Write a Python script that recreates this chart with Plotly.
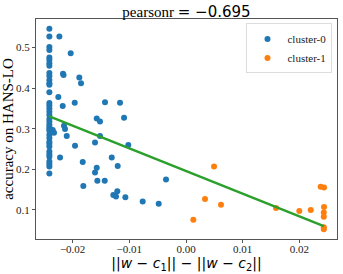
import plotly.graph_objects as go

# cluster-0 (blue)
c0_x = [-0.0241]*37 + [
    -0.02234, -0.02034, -0.0217, -0.0216, -0.01882, -0.01852, -0.02252, -0.02175,
    -0.01963, -0.01429, -0.01164, -0.01575, -0.01517, -0.01093, -0.02351, -0.02328,
    -0.02152, -0.02134, -0.02104, -0.01958, -0.02222, -0.01822, -0.01605, -0.01517,
    -0.01018, -0.0131, -0.01205, -0.01575, -0.01605, -0.01564, -0.01434, -0.01811,
    -0.01212, -0.01282, -0.01235, -0.0107, -0.00764, -0.00482, -0.00353]
c0_y = [0.546, 0.527, 0.501, 0.494, 0.475, 0.469, 0.461, 0.455, 0.437, 0.430,
        0.420, 0.412, 0.408, 0.390, 0.363, 0.357, 0.350, 0.342, 0.334, 0.324,
        0.317, 0.310, 0.304, 0.299, 0.295, 0.285, 0.277, 0.268, 0.263, 0.256,
        0.244, 0.237, 0.231, 0.219, 0.213, 0.207, 0.190] + [
    0.527, 0.486, 0.435, 0.432, 0.426, 0.412, 0.378, 0.356,
    0.364, 0.365, 0.364, 0.325, 0.318, 0.327, 0.297, 0.290,
    0.307, 0.299, 0.282, 0.258, 0.229, 0.218, 0.266, 0.282,
    0.260, 0.229, 0.208, 0.204, 0.192, 0.172, 0.172, 0.159,
    0.146, 0.137, 0.133, 0.131, 0.121, 0.115, 0.175]

# cluster-1 (orange)
c1_x = [0.00494, 0.00335, 0.00617, 0.00129, 0.01587, 0.01998, 0.0220,
        0.02375, 0.02434, 0.02434, 0.0243, 0.0243, 0.0243, 0.0243]
c1_y = [0.207, 0.127, 0.113, 0.076, 0.105, 0.0975, 0.100,
        0.157, 0.155, 0.107, 0.0935, 0.0835, 0.0574, 0.0524]

# regression line endpoints
fit_x = [-0.0242, 0.0243]
fit_y = [0.331, 0.060]

x_ticks = [-0.02, -0.01, 0.0, 0.01, 0.02]
x_labels = ["\u22120.02", "\u22120.01", "0.00", "0.01", "0.02"]
y_ticks = [0.1, 0.2, 0.3, 0.4, 0.5]
y_labels = ["0.1", "0.2", "0.3", "0.4", "0.5"]

serif = "Liberation Serif"

fig = go.Figure()
fig.add_trace(go.Scatter(x=c0_x, y=c0_y, mode="markers", name="cluster-0",
                         marker=dict(color="#1f77b4", size=6)))
fig.add_trace(go.Scatter(x=c1_x, y=c1_y, mode="markers", name="cluster-1",
                         marker=dict(color="#ff7f0e", size=6)))
fig.add_trace(go.Scatter(x=fit_x, y=fit_y, mode="lines", showlegend=False,
                         line=dict(color="#2ca02c", width=2.5)))

axis_common = dict(showgrid=False, zeroline=False, showline=True, mirror=True,
                   linecolor="#555555", linewidth=1, ticks="outside", ticklen=3,
                   tickcolor="#555555", automargin=False,
                   tickfont=dict(family=serif, size=11, color="#222"))

fig.update_layout(
    width=343, height=274,
    margin=dict(l=36, r=6, t=19, b=35),
    plot_bgcolor="white", paper_bgcolor="white",
    title=dict(text="pearsonr <span style='font-family:DejaVu Sans'>= \u22120.695</span>",
               x=0.5, xref="paper", xanchor="center", y=1, yref="paper", yanchor="bottom",
               pad=dict(b=2), font=dict(family=serif, size=15, color="black")),
    xaxis=dict(range=[-0.02646, 0.02663], tickvals=x_ticks, ticktext=x_labels,
               ticklabelstandoff=-3,
               title=dict(text="||<i>w</i> \u2212 <i>c</i><sub>1</sub>|| \u2212 ||<i>w</i> \u2212 <i>c</i><sub>2</sub>||",
                          font=dict(family="DejaVu Sans", size=14, color="black"), standoff=0),
               **axis_common),
    yaxis=dict(range=[0.0285, 0.570], tickvals=y_ticks, ticktext=y_labels,
               title=dict(text="accuracy on HANS-LO", font=dict(family=serif, size=15, color="black"),
                          standoff=2),
               **axis_common),
    legend=dict(x=0.985, y=0.98, xanchor="right", yanchor="top",
                bgcolor="rgba(255,255,255,0.8)", bordercolor="#dddddd", borderwidth=1,
                font=dict(family=serif, size=11, color="#222"), itemwidth=30,
                tracegroupgap=0),
    showlegend=True,
)

fig.write_html("out.html", config={"displayModeBar": False},
               post_script="document.body.style.margin='0';")
